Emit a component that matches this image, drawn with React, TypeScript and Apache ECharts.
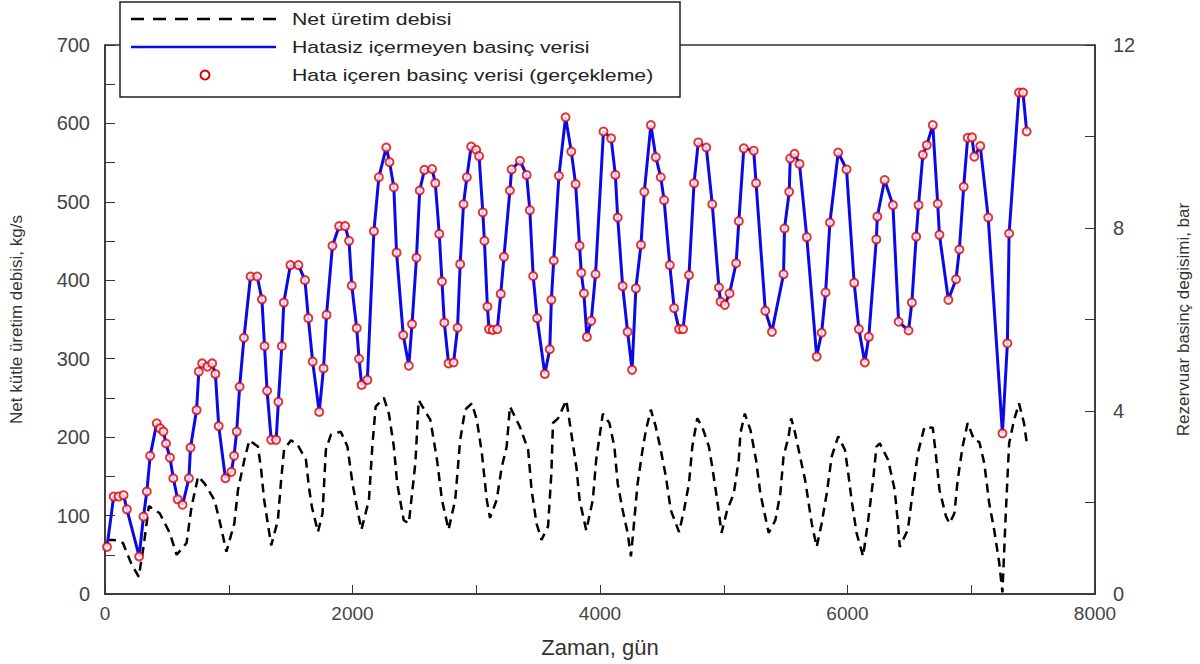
import React, { useEffect, useRef } from "react";
import * as echarts from "echarts";

// Net production flow rate (kg/s) vs time (days)
const flowDays = [16, 72, 145, 217, 273, 311, 338, 354, 442, 523, 579, 659, 699, 753, 804, 884, 925, 981, 1045, 1075, 1126, 1166, 1236, 1262, 1286, 1343, 1397, 1423, 1447, 1503, 1557, 1624, 1648, 1672, 1721, 1758, 1785, 1825, 1905, 1959, 2000, 2040, 2072, 2133, 2160, 2187, 2254, 2294, 2334, 2361, 2414, 2455, 2508, 2535, 2629, 2683, 2723, 2776, 2830, 2870, 2910, 2964, 3005, 3045, 3085, 3111, 3165, 3206, 3246, 3272, 3353, 3419, 3447, 3487, 3527, 3580, 3607, 3620, 3661, 3728, 3768, 3809, 3835, 3889, 3942, 3969, 4023, 4076, 4116, 4143, 4183, 4223, 4250, 4277, 4304, 4344, 4371, 4411, 4451, 4491, 4532, 4572, 4639, 4679, 4719, 4746, 4786, 4826, 4880, 4907, 4947, 4982, 5028, 5081, 5121, 5135, 5170, 5216, 5261, 5296, 5363, 5417, 5457, 5483, 5524, 5545, 5577, 5617, 5658, 5711, 5751, 5791, 5832, 5872, 5925, 5979, 6006, 6033, 6073, 6126, 6167, 6207, 6234, 6261, 6328, 6381, 6408, 6422, 6488, 6529, 6569, 6622, 6689, 6716, 6743, 6796, 6824, 6864, 6890, 6930, 6971, 7024, 7065, 7105, 7145, 7185, 7226, 7252, 7279, 7306, 7346, 7386, 7426, 7453];
const flowRate = [69, 69, 65, 37, 22, 60, 92, 112, 103, 78, 50, 65, 111, 150, 141, 120, 94, 54, 90, 133, 171, 196, 188, 158, 120, 62, 94, 145, 184, 196, 190, 171, 136, 111, 79, 103, 184, 203, 207, 188, 141, 107, 82, 120, 188, 239, 250, 230, 188, 141, 94, 90, 167, 247, 222, 171, 120, 82, 120, 196, 235, 243, 222, 180, 120, 97, 120, 162, 188, 239, 213, 184, 133, 90, 69, 86, 154, 218, 224, 247, 205, 162, 120, 81, 120, 171, 230, 218, 188, 141, 107, 78, 48, 94, 141, 184, 209, 235, 213, 184, 150, 107, 79, 107, 141, 188, 224, 213, 188, 162, 120, 78, 107, 128, 171, 205, 230, 209, 171, 128, 78, 94, 128, 175, 201, 224, 205, 175, 145, 90, 60, 90, 128, 175, 201, 184, 154, 120, 78, 48, 94, 145, 188, 192, 171, 133, 90, 60, 82, 133, 180, 213, 212, 175, 133, 99, 90, 103, 145, 188, 218, 196, 194, 167, 116, 82, 40, 2, 103, 192, 222, 243, 218, 188];

// Reservoir pressure change (bar) vs time (days) — sampled points
const pressureDays = [16, 70, 110, 150, 177, 276, 311, 338, 365, 418, 445, 472, 493, 525, 552, 587, 627, 678, 691, 740, 758, 785, 828, 866, 892, 919, 973, 1021, 1043, 1064, 1088, 1123, 1176, 1230, 1268, 1289, 1310, 1343, 1383, 1401, 1429, 1445, 1498, 1563, 1616, 1643, 1678, 1731, 1766, 1790, 1838, 1892, 1940, 1972, 1994, 2034, 2053, 2074, 2120, 2173, 2213, 2273, 2299, 2334, 2356, 2410, 2455, 2481, 2517, 2543, 2581, 2643, 2669, 2701, 2723, 2742, 2776, 2817, 2849, 2870, 2897, 2924, 2959, 2999, 3023, 3053, 3066, 3090, 3103, 3133, 3170, 3198, 3224, 3272, 3286, 3353, 3407, 3433, 3460, 3492, 3554, 3594, 3607, 3626, 3668, 3722, 3768, 3803, 3835, 3849, 3870, 3894, 3929, 3964, 4028, 4090, 4124, 4143, 4183, 4223, 4259, 4290, 4331, 4358, 4411, 4451, 4491, 4518, 4564, 4599, 4639, 4671, 4719, 4760, 4794, 4859, 4907, 4961, 4974, 5009, 5047, 5100, 5122, 5162, 5242, 5261, 5336, 5389, 5483, 5491, 5529, 5537, 5572, 5612, 5671, 5751, 5791, 5823, 5858, 5925, 5992, 6054, 6092, 6140, 6172, 6233, 6241, 6300, 6367, 6413, 6493, 6520, 6555, 6574, 6609, 6641, 6689, 6729, 6743, 6815, 6877, 6904, 6939, 6971, 7006, 7025, 7073, 7137, 7252, 7292, 7306, 7386, 7418, 7448];
const pressureBar = [1.03, 2.13, 2.13, 2.16, 1.85, 0.82, 1.69, 2.24, 3.02, 3.73, 3.62, 3.55, 3.29, 2.98, 2.53, 2.07, 1.95, 2.53, 3.2, 4.02, 4.86, 5.04, 4.97, 5.04, 4.81, 3.67, 2.53, 2.67, 3.02, 3.55, 4.53, 5.6, 6.94, 6.94, 6.44, 5.42, 4.44, 3.37, 3.37, 4.2, 5.42, 6.37, 7.19, 7.19, 6.86, 6.03, 5.08, 3.98, 4.93, 6.1, 7.61, 8.04, 8.04, 7.72, 6.74, 5.81, 5.14, 4.57, 4.68, 7.93, 9.11, 9.76, 9.44, 8.89, 7.46, 5.66, 4.99, 5.9, 7.35, 8.82, 9.27, 9.29, 8.98, 7.87, 6.83, 5.93, 5.04, 5.06, 5.82, 7.21, 8.52, 9.11, 9.78, 9.71, 9.57, 8.34, 7.72, 6.28, 5.79, 5.77, 5.79, 6.56, 7.37, 8.82, 9.28, 9.47, 9.16, 8.39, 6.95, 6.03, 4.81, 5.35, 6.43, 7.29, 9.14, 10.42, 9.67, 8.96, 7.61, 7.02, 6.57, 5.62, 5.97, 6.99, 10.11, 9.96, 9.16, 8.23, 6.73, 5.73, 4.9, 6.68, 7.63, 8.79, 10.25, 9.55, 9.11, 8.61, 7.19, 6.25, 5.79, 5.79, 6.97, 8.98, 9.87, 9.76, 8.52, 6.7, 6.39, 6.32, 6.57, 7.23, 8.15, 9.74, 9.69, 8.98, 6.19, 5.73, 6.99, 7.99, 8.79, 9.52, 9.62, 9.4, 7.8, 5.19, 5.71, 6.59, 8.12, 9.65, 9.28, 6.8, 5.79, 5.06, 5.62, 7.75, 8.25, 9.05, 8.5, 5.95, 5.76, 6.37, 7.81, 8.5, 9.6, 9.81, 10.25, 8.53, 7.85, 6.43, 6.88, 7.53, 8.9, 9.97, 9.98, 9.56, 9.79, 8.23, 3.51, 5.48, 7.88, 10.96, 10.96, 10.11];

const seriesNames = [
  "Net üretim debisi",
  "Hatasiz içermeyen basinç verisi",
  "Hata içeren basinç verisi (gerçekleme)",
];

const FONT = "'Liberation Sans', Arial, Helvetica, sans-serif";
const BLUE = "#0a0ae8";
const RED = "#e00000";

export default function App() {
  const ref = useRef<HTMLDivElement>(null);

  useEffect(() => {
    if (!ref.current) return;
    const chart = echarts.init(ref.current, null, { renderer: "svg" });
    const flow = flowDays.map((d, i) => [d, flowRate[i]]);
    const pres = pressureDays.map((d, i) => [d, pressureBar[i]]);

    const legendRows = [19, 47, 75];
    const legendText = { fontSize: 17, fill: "#222", fontFamily: FONT, verticalAlign: "middle", align: "left" };

    chart.setOption({
      animation: false,
      backgroundColor: "#ffffff",
      textStyle: { fontFamily: FONT },
      grid: {
        left: 103,
        right: 102,
        top: 45,
        bottom: 70,
        show: true,
        borderColor: "#333",
        borderWidth: 1.5,
        backgroundColor: "transparent",
      },
      graphic: [
        {
          type: "group",
          z: 100,
          children: [
            {
              type: "rect",
              shape: { x: 120, y: 2, width: 560, height: 95 },
              style: { fill: "#fff", stroke: "#222", lineWidth: 1.5 },
            },
            {
              type: "line",
              shape: { x1: 131, y1: legendRows[0], x2: 276, y2: legendRows[0] },
              style: { stroke: "#000", lineWidth: 2.5, lineDash: [13, 9] },
            },
            {
              type: "text",
              x: 292,
              y: legendRows[0],
              scaleX: 1.25,
              style: { text: seriesNames[0], ...legendText },
            },
            {
              type: "line",
              shape: { x1: 131, y1: legendRows[1], x2: 276, y2: legendRows[1] },
              style: { stroke: BLUE, lineWidth: 2.5 },
            },
            {
              type: "text",
              x: 292,
              y: legendRows[1],
              scaleX: 1.25,
              style: { text: seriesNames[1], ...legendText },
            },
            {
              type: "circle",
              shape: { cx: 205, cy: legendRows[2], r: 4.5 },
              style: { fill: "none", stroke: RED, lineWidth: 2 },
            },
            {
              type: "text",
              x: 292,
              y: legendRows[2],
              scaleX: 1.25,
              style: { text: seriesNames[2], ...legendText },
            },
          ],
        },
      ],
      xAxis: {
        type: "value",
        min: 0,
        max: 8000,
        interval: 2000,
        name: "Zaman, gün",
        nameLocation: "middle",
        nameGap: 42,
        nameTextStyle: { fontSize: 22, color: "#333", fontFamily: FONT },
        axisLine: { show: true, lineStyle: { color: "#333", width: 1.5 } },
        axisTick: { show: true, inside: true, length: 9, lineStyle: { color: "#333" } },
        minorTick: { show: true, splitNumber: 2, length: 9, lineStyle: { color: "#333" } },
        splitLine: { show: false },
        axisLabel: { fontSize: 19, color: "#444", margin: 10, fontFamily: FONT, formatter: (v: number) => String(v) },
      },
      yAxis: [
        {
          type: "value",
          min: 0,
          max: 700,
          interval: 100,
          position: "left",
          name: "Net kütle üretim debisi, kg/s",
          nameLocation: "middle",
          nameRotate: 90,
          nameGap: 80,
          nameTextStyle: { fontSize: 17, color: "#333", fontFamily: FONT },
          axisLine: { show: true, lineStyle: { color: "#333", width: 1.5 } },
          axisTick: { show: true, inside: true, length: 10, lineStyle: { color: "#333" } },
          minorTick: { show: true, splitNumber: 2, length: 10, lineStyle: { color: "#333" } },
          splitLine: { show: false },
          axisLabel: { fontSize: 20, color: "#444", margin: 15, fontFamily: FONT },
        },
        {
          type: "value",
          min: 0,
          max: 12,
          interval: 4,
          position: "right",
          name: "Rezervuar basinç degisimi, bar",
          nameLocation: "middle",
          nameRotate: 90,
          nameGap: 80,
          nameTextStyle: { fontSize: 17, color: "#333", fontFamily: FONT },
          axisLine: { show: true, lineStyle: { color: "#333", width: 1.5 } },
          axisTick: { show: true, inside: true, length: 10, lineStyle: { color: "#333" } },
          minorTick: { show: true, splitNumber: 2, length: 10, lineStyle: { color: "#333" } },
          splitLine: { show: false },
          axisLabel: { fontSize: 20, color: "#444", margin: 18, fontFamily: FONT },
        },
      ],
      series: [
        {
          name: seriesNames[0],
          type: "line",
          yAxisIndex: 0,
          data: flow,
          symbol: "none",
          z: 2,
          lineStyle: { color: "#000", width: 2.5, type: [9, 6] },
          itemStyle: { color: "#000" },
        },
        {
          name: seriesNames[1],
          type: "line",
          yAxisIndex: 1,
          data: pres,
          symbol: "none",
          z: 3,
          lineStyle: { color: BLUE, width: 3 },
          itemStyle: { color: BLUE },
        },
        {
          name: seriesNames[2],
          type: "scatter",
          yAxisIndex: 1,
          data: pres,
          symbol: "emptyCircle",
          symbolSize: 8,
          z: 4,
          itemStyle: { color: RED, borderColor: RED, borderWidth: 1.5 },
        },
      ],
    });

    return () => {
      chart.dispose();
    };
  }, []);

  return (
    <div
      ref={ref}
      style={{ position: "fixed", left: 0, top: 0, width: 1200, height: 664, background: "#fff" }}
    />
  );
}
